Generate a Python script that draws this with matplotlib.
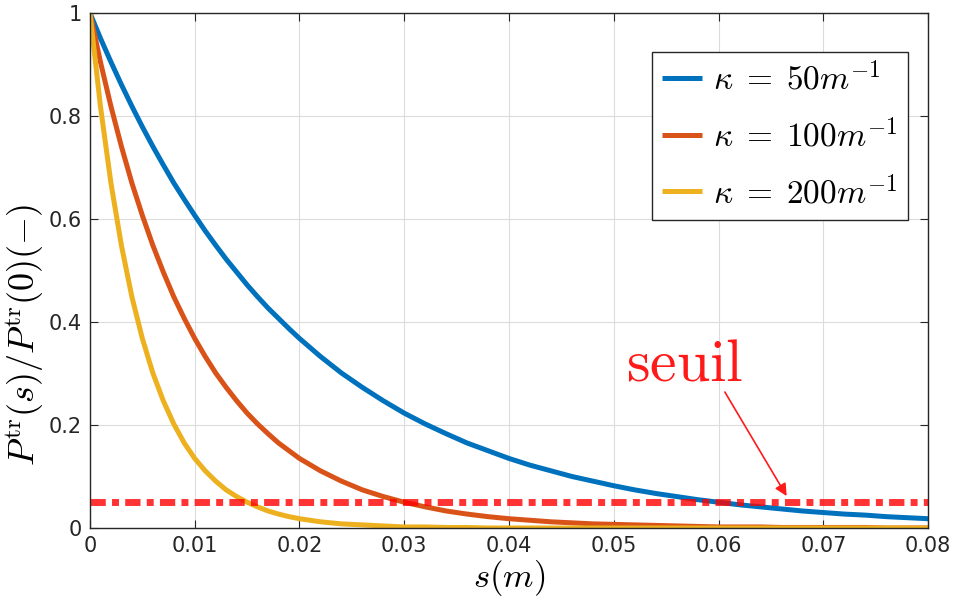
import numpy as np
import matplotlib.pyplot as plt

plt.rcParams['mathtext.fontset'] = 'cm'
plt.rcParams['font.family'] = 'DejaVu Sans'

# sample positions along s (m): finer near the origin where curves are steep
s_m = [0.000, 0.001, 0.002, 0.003, 0.004, 0.005, 0.006, 0.007, 0.008, 0.009,
       0.010, 0.011, 0.012, 0.013, 0.014, 0.015, 0.016, 0.017, 0.018, 0.019,
       0.020, 0.022, 0.024, 0.026, 0.028, 0.030, 0.032, 0.034, 0.036, 0.038,
       0.040, 0.042, 0.044, 0.046, 0.048, 0.050, 0.052, 0.054, 0.056, 0.058,
       0.060, 0.062, 0.064, 0.066, 0.068, 0.070, 0.072, 0.074, 0.076, 0.078,
       0.080]

# normalised transmitted power
p_k50 = [1.000, 0.951, 0.905, 0.861, 0.819, 0.779, 0.741, 0.705, 0.670, 0.638,
         0.607, 0.577, 0.549, 0.522, 0.497, 0.472, 0.449, 0.427, 0.407, 0.387,
         0.368, 0.333, 0.301, 0.273, 0.247, 0.223, 0.202, 0.183, 0.165, 0.150,
         0.135, 0.122, 0.111, 0.100, 0.091, 0.082, 0.074, 0.067, 0.061, 0.055,
         0.050, 0.045, 0.041, 0.037, 0.033, 0.030, 0.027, 0.025, 0.022, 0.020,
         0.018]
p_k100 = [1.000, 0.905, 0.819, 0.741, 0.670, 0.607, 0.549, 0.497, 0.449, 0.407,
          0.368, 0.333, 0.301, 0.273, 0.247, 0.223, 0.202, 0.183, 0.165, 0.150,
          0.135, 0.111, 0.091, 0.074, 0.061, 0.050, 0.041, 0.033, 0.027, 0.022,
          0.018, 0.015, 0.012, 0.010, 0.008, 0.007, 0.006, 0.005, 0.004, 0.003,
          0.002, 0.002, 0.002, 0.001, 0.001, 0.001, 0.001, 0.001, 0.000, 0.000,
          0.000]
p_k200 = [1.000, 0.819, 0.670, 0.549, 0.449, 0.368, 0.301, 0.247, 0.202, 0.165,
          0.135, 0.111, 0.091, 0.074, 0.061, 0.050, 0.041, 0.033, 0.027, 0.022,
          0.018, 0.012, 0.008, 0.006, 0.004, 0.002, 0.002, 0.001, 0.001, 0.000,
          0.000, 0.000, 0.000, 0.000, 0.000, 0.000, 0.000, 0.000, 0.000, 0.000,
          0.000, 0.000, 0.000, 0.000, 0.000, 0.000, 0.000, 0.000, 0.000, 0.000,
          0.000]
labels = [r'$\kappa\;=\;50m^{-1}$', r'$\kappa\;=\;100m^{-1}$', r'$\kappa\;=\;200m^{-1}$']
seuil = 0.05

x_ticks = [0, 0.01, 0.02, 0.03, 0.04, 0.05, 0.06, 0.07, 0.08]
x_ticklabels = ['0', '0.01', '0.02', '0.03', '0.04', '0.05', '0.06', '0.07', '0.08']
y_ticks = [0, 0.2, 0.4, 0.6, 0.8, 1]
y_ticklabels = ['0', '0.2', '0.4', '0.6', '0.8', '1']

colors = ['#0072BD', '#D95319', '#EDB120']

fig = plt.figure(figsize=(9.59, 6.05), dpi=100)
ax = fig.add_axes([0.0938, 0.1273, 0.874, 0.8512])

for p, c, lab in zip([p_k50, p_k100, p_k200], colors, labels):
    ax.plot(s_m, p, color=c, lw=3.6, label=lab, solid_capstyle='butt')

ax.plot([0, 0.08], [seuil, seuil], color='#FF0000', alpha=0.8, lw=5,
        dashes=(2.2, 0.9, 1.0, 0.9))

# threshold label and arrow
ax.text(0.0568, 0.287, r'$\mathrm{seuil}$', color='#FF1A1A', fontsize=43,
        ha='center', va='baseline')
ax.annotate('', xy=(0.0665, 0.062), xytext=(0.0606, 0.264),
            arrowprops=dict(arrowstyle='-|>', color='#FF1A1A', lw=1.2,
                            mutation_scale=18, shrinkA=0, shrinkB=0))

ax.set_xlim(0, 0.08)
ax.set_ylim(0, 1)
ax.set_xticks(x_ticks)
ax.set_xticklabels(x_ticklabels)
ax.set_yticks(y_ticks)
ax.set_yticklabels(y_ticklabels)
ax.tick_params(direction='in', top=True, right=True, labelsize=15,
               colors='#262626', length=6, width=0.8, pad=6)
ax.grid(True, color='#DCDCDC', lw=0.8)
for sp in ax.spines.values():
    sp.set_color('#262626')
    sp.set_linewidth(1.0)

ax.set_xlabel(r'$s(m)$', fontsize=25, labelpad=1)
ax.set_ylabel(r'$P^{\rm tr}(s)/P^{\rm tr}(0)(-)$', fontsize=26)
ax.yaxis.set_label_coords(-0.052, 0.375)

leg = ax.legend(loc='upper right', bbox_to_anchor=(0.976, 0.924), fontsize=24,
                handlelength=1.2, handletextpad=0.35, labelspacing=0.66,
                borderpad=0.3, borderaxespad=0, fancybox=False, framealpha=1)
leg.get_frame().set_edgecolor('#262626')
leg.get_frame().set_linewidth(1.0)

fig.savefig('out.png', dpi=100)
